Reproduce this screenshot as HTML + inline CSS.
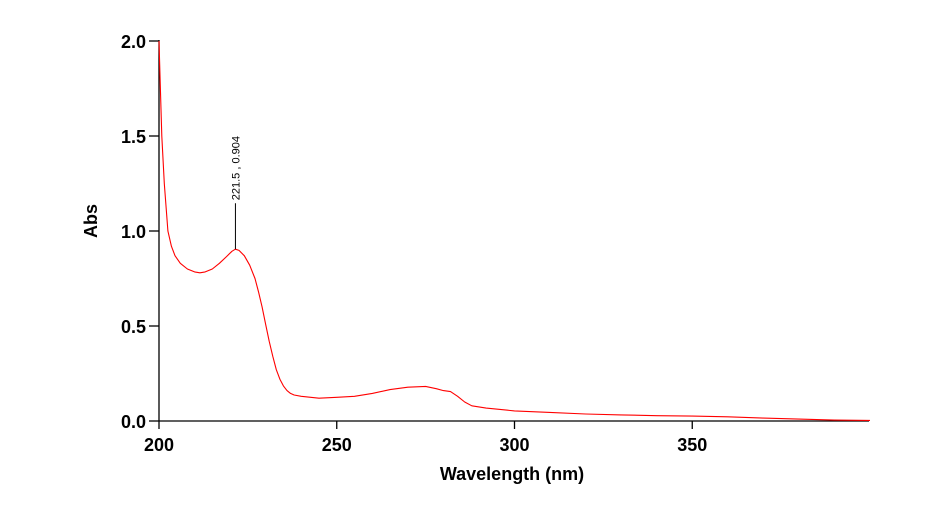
<!DOCTYPE html>
<html><head><meta charset="utf-8"><style>
body{margin:0;background:#fff}
svg{display:block;font-family:"Liberation Sans",Arial,sans-serif}
</style></head><body>
<svg id="chart" width="931" height="521" viewBox="0 0 931 521">
<g id="axes"></g>
<path id="curve" fill="none" stroke="#ff0000" stroke-width="1.1" stroke-linejoin="round"/>
<g id="annot"></g>
<text x="512" y="480" text-anchor="middle" font-size="18" font-weight="bold">Wavelength (nm)</text>
<text transform="translate(97,221) rotate(-90)" text-anchor="middle" font-size="18" font-weight="bold">Abs</text>
</svg>
<script>
const wavelengths=[200,200.3,200.8,201.5,202.5,203.5,204.5,206,208,210,211.5,213,215,217,219,220.5,221.5,222.5,224,225.5,227,228,229,230,231,232,233,234,235,236,237,238,240,245,250,255,260,265,270,275,278,280,282,284,286,288,292,300,310,320,330,340,350,360,370,380,390,400];
const absorbance=[2.0,1.8,1.5,1.25,1.0,0.92,0.87,0.83,0.80,0.785,0.78,0.785,0.80,0.83,0.865,0.893,0.904,0.898,0.87,0.82,0.75,0.68,0.6,0.51,0.42,0.34,0.27,0.22,0.185,0.16,0.145,0.137,0.13,0.12,0.125,0.13,0.145,0.165,0.178,0.182,0.17,0.16,0.155,0.13,0.1,0.08,0.068,0.053,0.045,0.037,0.032,0.028,0.026,0.022,0.015,0.01,0.005,0.003];
const xTicks=[200,250,300,350];
const yTicks=[0.0,0.5,1.0,1.5,2.0];
const peakX=221.5, peakY=0.904, peakLabel="221.5 , 0.904";
const NS="http://www.w3.org/2000/svg";
const sx=v=>159+(v-200)*3.555;
const sy=v=>421-v*190;
function mk(tag,attrs,parent){const e=document.createElementNS(NS,tag);for(const k in attrs)e.setAttribute(k,attrs[k]);parent.appendChild(e);return e;}
const axes=document.getElementById('axes');
let l=mk('line',{x1:159,y1:421,x2:869,y2:421,stroke:'#000','stroke-width':1.3},axes);


l=mk('line',{x1:159,y1:421,x2:159,y2:40,stroke:'#000','stroke-width':1.3},axes);


xTicks.forEach(t=>{
 const tk=mk('line',{x1:sx(t),y1:421,x2:sx(t),y2:429,stroke:'#000','stroke-width':1.3},axes);
 
 
 const tx=mk('text',{x:sx(t),y:451,'text-anchor':'middle','font-size':18,'font-weight':'bold'},axes);
 tx.textContent=t;
 
 
});
yTicks.forEach(t=>{
 const tk=mk('line',{x1:149,y1:sy(t),x2:159,y2:sy(t),stroke:'#000','stroke-width':1.3},axes);
 
 
 const tx=mk('text',{x:146,y:sy(t)+7,'text-anchor':'end','font-size':18,'font-weight':'bold'},axes);
 tx.textContent=t.toFixed(1);
 
 
});
document.getElementById('curve').setAttribute('d',wavelengths.map((w,i)=>(i?'L':'M')+sx(w).toFixed(1)+','+sy(absorbance[i]).toFixed(1)).join(''));
const an=document.getElementById('annot');
const ax=sx(peakX), ay=sy(peakY);
l=mk('line',{x1:ax,y1:ay,x2:ax,y2:ay-46,stroke:'#000','stroke-width':1},an);


const at=mk('text',{transform:`translate(${ax+4},${ay-49}) rotate(-90)`,'font-size':11},an);
at.textContent=peakLabel;


</script>
</body></html>
